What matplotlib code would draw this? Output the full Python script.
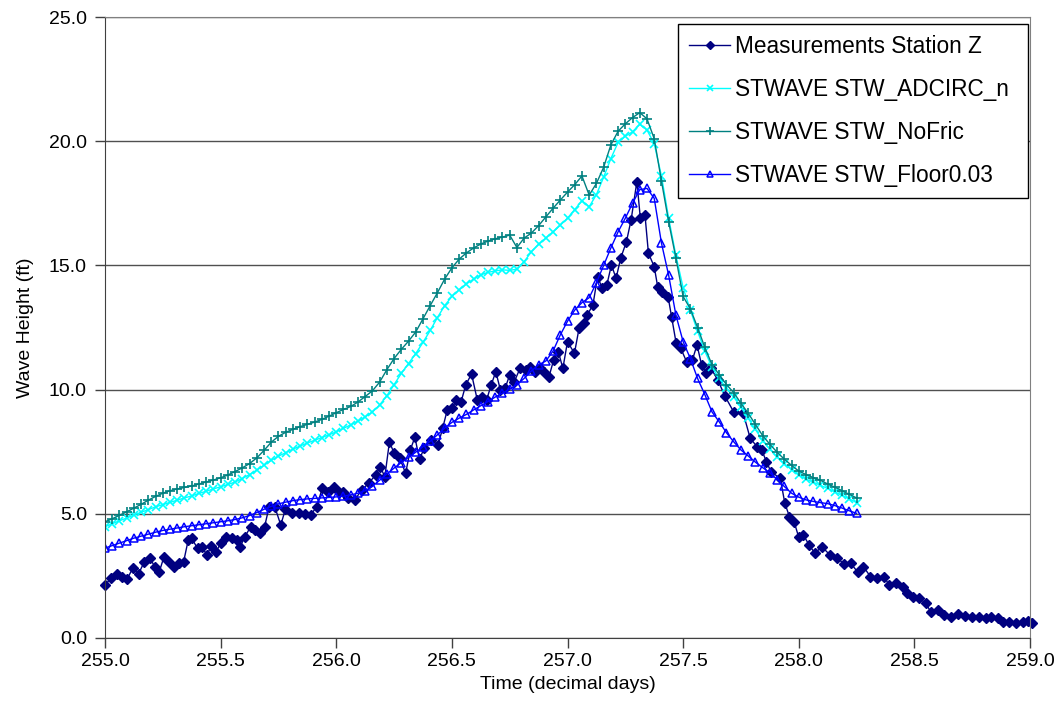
import matplotlib
matplotlib.use('Agg')
import matplotlib.pyplot as plt
import numpy as np
from matplotlib.ticker import FormatStrFormatter, MultipleLocator

plt.rcParams['font.family'] = ['Liberation Sans', 'DejaVu Sans']

# model output: start day and step (1/32 day)
model_t0 = 255.0
model_dt = 1.0 / 32

nofric = [4.68, 4.80, 4.94, 5.08, 5.23, 5.38, 5.55, 5.70, 5.83, 5.93,
          6.00, 6.06, 6.12, 6.20, 6.28, 6.36, 6.45, 6.56, 6.70, 6.85,
          7.02, 7.25, 7.55, 7.88, 8.12, 8.28, 8.40, 8.51, 8.60, 8.69,
          8.80, 8.93, 9.07, 9.20, 9.32, 9.50, 9.72, 9.95, 10.30, 10.80,
          11.25, 11.62, 11.95, 12.32, 12.85, 13.38, 13.90, 14.45, 14.90, 15.25,
          15.50, 15.70, 15.86, 15.98, 16.07, 16.14, 16.22, 15.72, 16.10, 16.30,
          16.60, 16.95, 17.30, 17.63, 17.95, 18.25, 18.60, 17.83, 18.30, 18.95,
          19.85, 20.40, 20.70, 20.95, 21.15, 20.90, 20.10, 18.40, 16.75, 15.30,
          13.75, 13.25, 12.50, 11.70, 11.00, 10.60, 10.20, 9.88, 9.45, 9.05,
          8.60, 8.15, 7.80, 7.48, 7.20, 6.95, 6.72, 6.58, 6.46, 6.35,
          6.20, 6.07, 5.93, 5.78, 5.64]

adcirc = [4.48, 4.60, 4.72, 4.83, 4.95, 5.06, 5.17, 5.28, 5.37, 5.46,
          5.55, 5.64, 5.72, 5.82, 5.91, 6.00, 6.09, 6.18, 6.28, 6.42,
          6.58, 6.76, 6.95, 7.15, 7.32, 7.46, 7.60, 7.73, 7.85, 7.96,
          8.07, 8.18, 8.30, 8.44, 8.58, 8.73, 8.90, 9.10, 9.38, 9.75,
          10.20, 10.65, 11.05, 11.45, 11.90, 12.38, 12.90, 13.38, 13.75, 14.02,
          14.25, 14.45, 14.62, 14.72, 14.78, 14.82, 14.80, 14.85, 15.15, 15.55,
          15.85, 16.10, 16.35, 16.62, 16.90, 17.25, 17.60, 17.36, 17.85, 18.55,
          19.30, 19.95, 20.20, 20.38, 20.68, 20.45, 19.90, 18.60, 16.90, 15.40,
          14.10, 13.20, 12.35, 11.55, 10.90, 10.45, 10.05, 9.70, 9.30, 8.85,
          8.40, 7.95, 7.60, 7.30, 7.02, 6.78, 6.55, 6.40, 6.27, 6.15,
          6.02, 5.88, 5.74, 5.60, 5.45]

floor003 = [3.62, 3.72, 3.82, 3.92, 4.02, 4.10, 4.18, 4.26, 4.33, 4.38,
            4.43, 4.48, 4.52, 4.56, 4.60, 4.64, 4.68, 4.72, 4.77, 4.84,
            4.93, 5.05, 5.18, 5.30, 5.40, 5.47, 5.53, 5.57, 5.60, 5.62,
            5.64, 5.66, 5.68, 5.71, 5.76, 5.83, 5.93, 6.10, 6.35, 6.60,
            6.84, 7.06, 7.27, 7.48, 7.70, 7.92, 8.18, 8.45, 8.68, 8.85,
            9.00, 9.18, 9.35, 9.52, 9.70, 9.86, 10.02, 10.20, 10.45, 10.75,
            11.00, 11.15, 11.55, 12.20, 12.75, 13.20, 13.50, 13.70, 14.30, 15.00,
            15.70, 16.35, 16.90, 17.50, 18.05, 18.10, 17.70, 15.90, 14.60, 13.00,
            11.93, 11.25, 10.45, 9.80, 9.10, 8.70, 8.26, 7.90, 7.57, 7.33,
            7.08, 6.86, 6.65, 6.38, 6.10, 5.83, 5.67, 5.56, 5.50, 5.45,
            5.41, 5.33, 5.23, 5.12, 5.02]

meas_t = [255.000, 255.025, 255.050, 255.075, 255.095, 255.120, 255.145, 255.170, 255.195, 255.215,
          255.235, 255.255, 255.275, 255.300, 255.320, 255.340, 255.360, 255.375, 255.400, 255.420,
          255.440, 255.460, 255.480, 255.500, 255.525, 255.550, 255.570, 255.585, 255.605, 255.630,
          255.650, 255.670, 255.690, 255.710, 255.735, 255.760, 255.780, 255.810, 255.840, 255.865,
          255.890, 255.915, 255.940, 255.965, 255.990, 256.010, 256.030, 256.050, 256.080, 256.110,
          256.140, 256.170, 256.190, 256.210, 256.230, 256.250, 256.275, 256.300, 256.320, 256.340,
          256.360, 256.380, 256.410, 256.440, 256.460, 256.480, 256.500, 256.520, 256.540, 256.560,
          256.585, 256.610, 256.630, 256.650, 256.670, 256.690, 256.710, 256.730, 256.750, 256.770,
          256.795, 256.820, 256.840, 256.860, 256.880, 256.900, 256.920, 256.940, 256.960, 256.980,
          257.000, 257.030, 257.050, 257.070, 257.085, 257.110, 257.130, 257.150, 257.170, 257.190,
          257.210, 257.230, 257.255, 257.275, 257.300, 257.315, 257.335, 257.350, 257.375, 257.390,
          257.410, 257.435, 257.450, 257.470, 257.490, 257.515, 257.540, 257.560, 257.580, 257.600,
          257.620, 257.650, 257.680, 257.720, 257.760, 257.790, 257.820, 257.840, 257.860, 257.880,
          257.920, 257.940, 257.960, 257.980, 258.000, 258.020, 258.045, 258.070, 258.100, 258.135,
          258.165, 258.195, 258.225, 258.255, 258.280, 258.310, 258.340, 258.370, 258.390, 258.420,
          258.450, 258.470, 258.495, 258.520, 258.550, 258.570, 258.600, 258.630, 258.660, 258.690,
          258.720, 258.750, 258.780, 258.810, 258.830, 258.860, 258.885, 258.910, 258.940, 258.970,
          258.990, 259.010]

meas_v = [2.13, 2.40, 2.58, 2.45, 2.36, 2.81, 2.58, 3.07, 3.21, 2.87,
          2.67, 3.27, 3.07, 2.87, 3.01, 3.07, 3.95, 4.01, 3.61, 3.68,
          3.34, 3.70, 3.47, 3.81, 4.08, 4.01, 3.95, 3.68, 4.08, 4.48,
          4.35, 4.21, 4.48, 5.29, 5.26, 4.55, 5.18, 5.04, 5.02, 4.99,
          4.95, 5.29, 6.03, 5.89, 6.09, 5.89, 5.89, 5.62, 5.56, 5.96,
          6.23, 6.56, 6.90, 6.49, 7.90, 7.44, 7.23, 6.63, 7.57, 8.08,
          7.19, 7.64, 7.97, 7.77, 8.44, 9.18, 9.25, 9.58, 9.51, 10.19,
          10.63, 9.58, 9.71, 9.58, 10.19, 10.72, 9.98, 10.05, 10.59, 10.32,
          10.86, 10.79, 10.92, 10.72, 10.86, 10.70, 10.52, 11.19, 11.53, 10.86,
          11.93, 11.46, 12.47, 12.67, 13.00, 13.41, 14.55, 14.08, 14.21, 15.02,
          14.48, 15.29, 15.96, 16.83, 18.37, 16.90, 17.03, 15.49, 14.95, 14.14,
          13.94, 13.74, 12.93, 11.86, 11.66, 11.12, 11.19, 11.80, 10.99, 10.66,
          10.86, 10.39, 9.75, 9.08, 9.05, 8.04, 7.70, 7.57, 7.10, 6.69,
          6.43, 5.42, 4.88, 4.68, 4.05, 4.15, 3.74, 3.41, 3.68, 3.34,
          3.24, 2.98, 3.01, 2.65, 2.87, 2.47, 2.40, 2.47, 2.13, 2.20,
          2.07, 1.80, 1.66, 1.60, 1.40, 1.06, 1.13, 0.93, 0.86, 0.95,
          0.89, 0.86, 0.83, 0.79, 0.86, 0.79, 0.66, 0.66, 0.59, 0.66,
          0.70, 0.62]

model_t = model_t0 + model_dt * np.arange(len(nofric))

fig = plt.figure(figsize=(10.63, 7.25), dpi=100)
ax = fig.add_axes([105 / 1063, 1 - 638 / 725, 925 / 1063, 621 / 725])

ax.plot(meas_t, meas_v, color='#000080', lw=1, marker='D', ms=5.5,
        mfc='#000080', mec='#000080', label='Measurements Station Z', clip_on=False)
ax.plot(model_t, adcirc, color='#00FFFF', lw=1, marker='x', ms=6, mew=1.2,
        label='STWAVE STW_ADCIRC_n')
ax.plot(model_t, nofric, color='#008080', lw=1, marker='+', ms=7, mew=1.2,
        label='STWAVE STW_NoFric')
ax.plot(model_t, floor003, color='#0000FF', lw=1, marker='^', ms=6, mew=1.1,
        mfc='none', mec='#0000FF', label='STWAVE STW_Floor0.03')

ax.set_xlim(255, 259)
ax.set_ylim(0, 25)
ax.xaxis.set_major_locator(MultipleLocator(0.5))
ax.yaxis.set_major_locator(MultipleLocator(5))
ax.xaxis.set_major_formatter(FormatStrFormatter('%.1f'))
ax.yaxis.set_major_formatter(FormatStrFormatter('%.1f'))
ax.tick_params(direction='out', length=7, width=1, color='#404040',
               labelsize=14, pad=4)
ax.tick_params(axis='y', pad=6)
ax.grid(axis='y', color='#505050', lw=1)
ax.set_axisbelow(True)
for s in ax.spines.values():
    s.set_color('#808080')
ax.spines['left'].set_color('#404040')
ax.spines['bottom'].set_color('#404040')

ax.set_xlabel('Time (decimal days)', fontsize=14, labelpad=4)
ax.set_ylabel('Wave Height (ft)', fontsize=14, labelpad=11)

# legend box spans x 678..1028 px, top at y 24 px
leg = ax.legend(loc='upper left', bbox_to_anchor=(0.6195, 0.5, 0.3784, 0.4887),
                mode='expand', borderaxespad=0, fontsize=16.3, frameon=True,
                fancybox=False, edgecolor='black', framealpha=1,
                labelspacing=0.88, handlelength=1.8, handletextpad=0.22,
                borderpad=0.5, markerscale=0.75)
leg.get_frame().set_linewidth(1)

fig.savefig('out.png', dpi=100)
